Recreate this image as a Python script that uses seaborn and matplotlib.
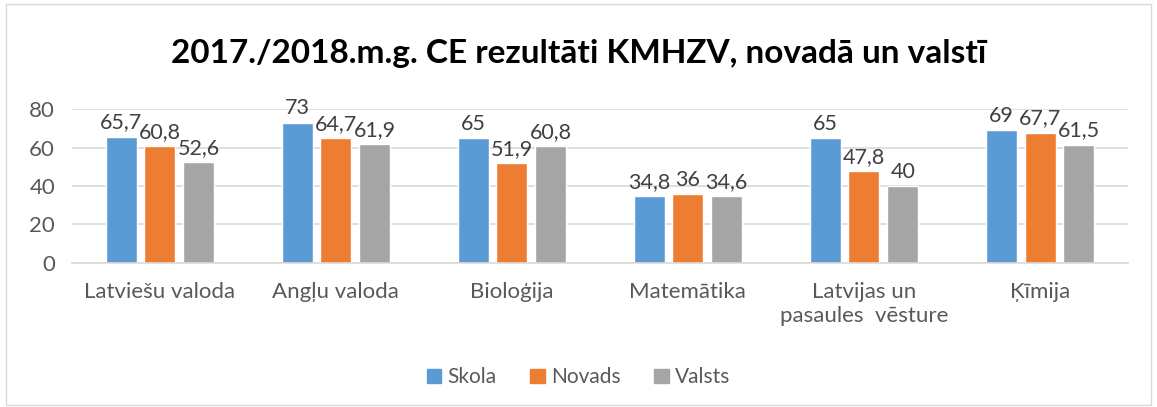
import pandas as pd
import matplotlib
matplotlib.use("Agg")
import matplotlib.pyplot as plt
import seaborn as sns

# Chart data
subjects = ["Latviešu valoda", "Angļu valoda", "Bioloģija", "Matemātika",
            "Latvijas un\npasaules  vēsture", "Ķīmija"]
skola = [65.7, 73, 65, 34.8, 65, 69]
novads = [60.8, 64.7, 51.9, 36, 47.8, 67.7]
valsts = [52.6, 61.9, 60.8, 34.6, 40, 61.5]
series = ["Skola", "Novads", "Valsts"]
colors = ["#5B9BD5", "#ED7D31", "#A5A5A5"]

df = pd.DataFrame({"Priekšmets": subjects, "Skola": skola,
                   "Novads": novads, "Valsts": valsts})
long_df = df.melt(id_vars="Priekšmets", var_name="Līmenis", value_name="Rezultāts")

sns.set_style("white")
plt.rcParams["font.family"] = ["Lato", "DejaVu Sans"]
grey = "#595959"

fig = plt.figure(figsize=(11.57, 4.07), dpi=100)
ax = fig.add_axes([0.062, 0.354, 0.913, 0.378])

sns.barplot(data=long_df, x="Priekšmets", y="Rezultāts", hue="Līmenis",
            hue_order=series, palette=colors, width=0.66, gap=0.2,
            saturation=1, ax=ax, legend=True)

for cont in ax.containers:
    ax.bar_label(cont, labels=[f"{v:g}".replace(".", ",") for v in cont.datavalues],
                 padding=3, fontsize=15.5, color="#404040", clip_on=False)

ax.set_ylim(0, 80)
ax.set_yticks([0, 20, 40, 60, 80])
ax.yaxis.grid(True, color="#D9D9D9", linewidth=1.2)
ax.set_axisbelow(True)
for s in ["top", "right", "left"]:
    ax.spines[s].set_visible(False)
ax.spines["bottom"].set_color("#D9D9D9")
ax.spines["bottom"].set_linewidth(1.2)
ax.tick_params(axis="both", length=0, labelsize=16, colors=grey)
ax.tick_params(axis="x", pad=14)
ax.tick_params(axis="y", pad=12)
ax.set_xlabel("")
ax.set_ylabel("")

fig.suptitle("2017./2018.m.g. CE rezultāti KMHZV, novadā un valstī",
             x=0.5, y=0.905, fontsize=24, fontweight="bold", color="black")

ax.legend_.remove()
handles = [plt.Rectangle((0, 0), 1, 1, color=c) for c in colors]
fig.legend(handles, series, loc="center", bbox_to_anchor=(0.5, 0.073), ncol=3,
           frameon=False, fontsize=15, labelcolor=grey, handlelength=0.7,
           handleheight=0.7, handletextpad=0.3, columnspacing=1.6)

# light frame around the chart
fig.patches.append(plt.Rectangle((0.005, 0.005), 0.99, 0.985, transform=fig.transFigure,
                                 fill=False, edgecolor="#D9D9D9", linewidth=1))

fig.savefig("out.png", dpi=100)
